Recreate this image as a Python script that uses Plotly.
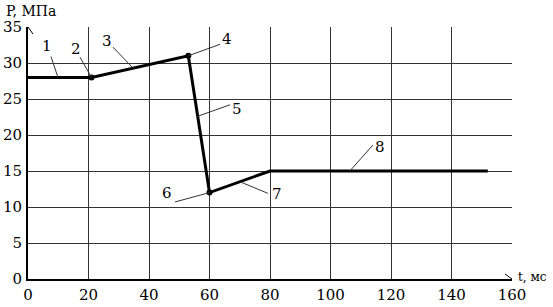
import plotly.graph_objects as go

# Data
t_ms = [0, 21, 53, 60, 80, 152]
p_mpa = [28, 28, 31, 12, 15, 15]
dot_t = [21, 53, 60]
dot_p = [28, 31, 12]

x_ticks = [0, 20, 40, 60, 80, 100, 120, 140, 160]
y_ticks = [0, 5, 10, 15, 20, 25, 30, 35]

# labels: text, text position, leader line start/end (data units)
labels = ["1", "2", "3", "4", "5", "6", "7", "8"]
label_pos = [(6.3, 32.3), (15.9, 32.0), (26.1, 33.0), (65.8, 33.4),
             (69.1, 23.6), (46.0, 11.9), (82.3, 11.8), (116.4, 18.3)]
leaders = [((7.6, 30.9), (9.9, 28.0)),
           ((17.2, 30.8), (21.0, 28.0)),
           ((28.1, 32.2), (34.7, 29.3)),
           ((63.5, 32.6), (53.0, 31.0)),
           ((66.8, 24.2), (56.1, 22.6)),
           ((48.6, 10.7), (60.0, 12.0)),
           ((79.3, 11.9), (70.1, 13.5)),
           ((114.0, 18.6), (106.4, 15.0))]

FONT = "DejaVu Serif"

W, H = 553, 307
ML, MR, MT, MB = 28, 41, 27, 28
pw = W - ML - MR
ph = H - MT - MB


def px_to_paper(px, py):
    return (px - ML) / pw, (H - MB - py) / ph


fig = go.Figure()
fig.add_trace(go.Scatter(x=t_ms, y=p_mpa, mode="lines",
                         line=dict(color="black", width=3), hoverinfo="skip"))
fig.add_trace(go.Scatter(x=dot_t, y=dot_p, mode="markers",
                         marker=dict(color="black", size=6), hoverinfo="skip"))

shapes = []
for (a, b) in leaders:
    shapes.append(dict(type="line", xref="x", yref="y", x0=a[0], y0=a[1], x1=b[0], y1=b[1],
                       line=dict(color="#333", width=1)))
# axis arrows
shapes.append(dict(type="path", xref="x", yref="y", xsizemode="pixel", ysizemode="pixel",
                   xanchor=160, yanchor=0, path="M -7 -5 L 0 0 L -7 5",
                   line=dict(color="black", width=1)))
shapes.append(dict(type="path", xref="x", yref="y", xsizemode="pixel", ysizemode="pixel",
                   xanchor=0, yanchor=35, path="M -5 -7 L 0 0 L 5 -7",
                   line=dict(color="black", width=1)))

annotations = []
for txt, (x, y) in zip(labels, label_pos):
    annotations.append(dict(x=x, y=y, xref="x", yref="y", text=txt, showarrow=False,
                            font=dict(family=FONT, size=15, color="black")))
ax_, ay_ = px_to_paper(4, 11)
annotations.append(dict(x=ax_, y=ay_, xref="paper", yref="paper", text="P, МПа", showarrow=False,
                        xanchor="left", yanchor="middle",
                        font=dict(family=FONT, size=14, color="black")))
bx, by = px_to_paper(516, 277)
annotations.append(dict(x=bx, y=by, xref="paper", yref="paper", text="t, мс", showarrow=False,
                        xanchor="left", yanchor="middle",
                        font=dict(family=FONT, size=12, color="black")))

fig.update_layout(
    width=W, height=H,
    margin=dict(l=ML, r=MR, t=MT, b=MB, autoexpand=False),
    paper_bgcolor="white", plot_bgcolor="white",
    showlegend=False,
    shapes=shapes,
    annotations=annotations,
    font=dict(family=FONT, size=15, color="black"),
)

fig.update_xaxes(range=[0, 160], tickvals=x_ticks, ticktext=[str(v) for v in x_ticks],
                 showgrid=True, gridcolor="#333", gridwidth=1, zeroline=False,
                 showline=True, linecolor="black", linewidth=2, ticks="",
                 automargin=False, ticklabelstandoff=1,
                 tickfont=dict(family=FONT, size=15, color="black"))
fig.update_yaxes(range=[0, 35], tickvals=y_ticks, ticktext=[str(v) for v in y_ticks],
                 showgrid=True, gridcolor="#333", gridwidth=1, zeroline=False,
                 showline=True, linecolor="black", linewidth=2, ticks="",
                 automargin=False, ticklabelstandoff=1,
                 tickfont=dict(family=FONT, size=15, color="black"))

fig.write_html("out.html")
